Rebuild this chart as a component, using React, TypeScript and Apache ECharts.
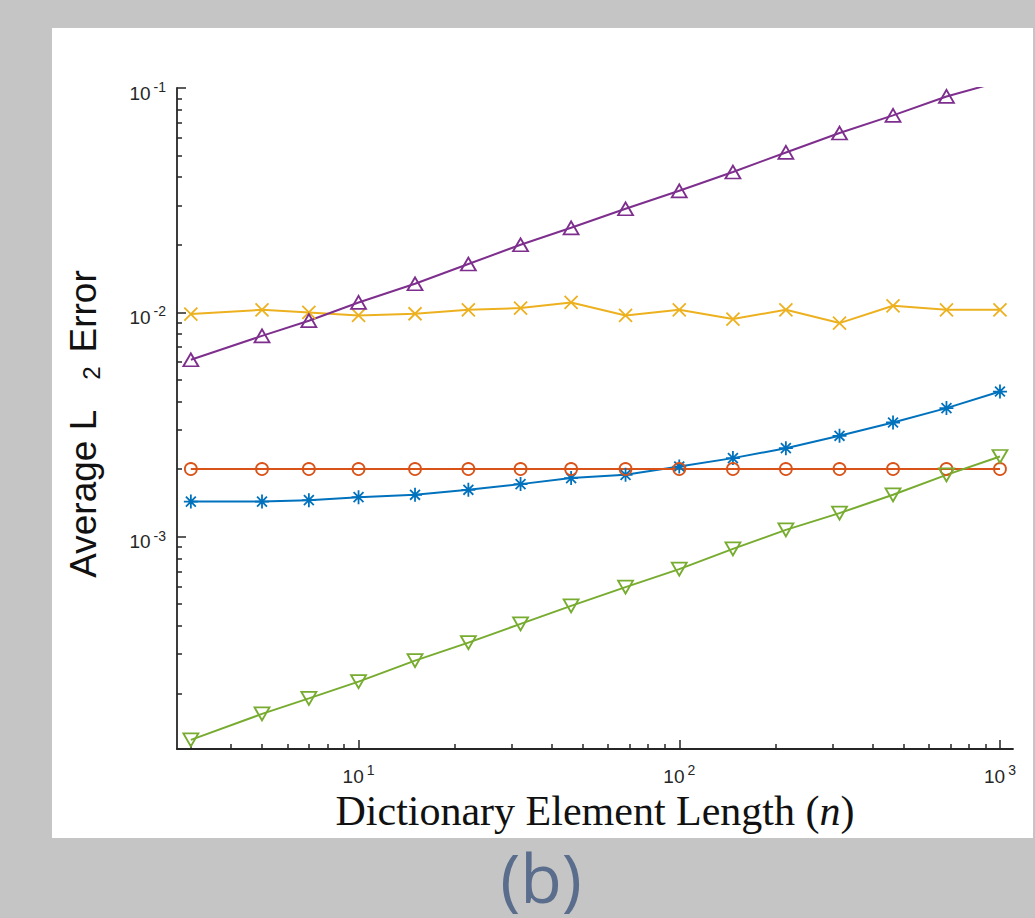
import React, { useEffect, useRef } from "react";
import * as echarts from "echarts";

// Dictionary element length n
const nValues = [3, 5, 7, 10, 15, 22, 32, 46, 68, 100, 147, 215, 316, 464, 681, 1000];

// Average L2 error per method
const blueErr = [1.432e-3, 1.432e-3, 1.453e-3, 1.498e-3, 1.535e-3, 1.616e-3, 1.713e-3, 1.822e-3, 1.884e-3, 2.052e-3, 2.237e-3, 2.478e-3, 2.813e-3, 3.225e-3, 3.738e-3, 4.432e-3];
const orangeErr = [2.0e-3, 2.0e-3, 2.0e-3, 2.0e-3, 2.0e-3, 2.0e-3, 2.0e-3, 2.0e-3, 2.0e-3, 2.0e-3, 2.0e-3, 2.0e-3, 2.0e-3, 2.0e-3, 2.0e-3, 2.0e-3];
const yellowErr = [9.82e-3, 1.026e-2, 9.98e-3, 9.68e-3, 9.85e-3, 1.026e-2, 1.044e-2, 1.106e-2, 9.68e-3, 1.026e-2, 9.33e-3, 1.026e-2, 8.95e-3, 1.069e-2, 1.026e-2, 1.026e-2];
const purpleErr = [6.14e-3, 7.85e-3, 9.17e-3, 1.106e-2, 1.34e-2, 1.641e-2, 2.0e-2, 2.38e-2, 2.894e-2, 3.48e-2, 4.22e-2, 5.16e-2, 6.3e-2, 7.55e-2, 9.17e-2, 1.067e-1];
const greenErr = [1.24e-4, 1.619e-4, 1.898e-4, 2.256e-4, 2.798e-4, 3.366e-4, 4.078e-4, 4.907e-4, 5.947e-4, 7.154e-4, 8.81e-4, 1.071e-3, 1.272e-3, 1.535e-3, 1.884e-3, 2.275e-3];

// Axis ticks
const xMajorTicks = [10, 100, 1000];
const xMinorTicks = [3, 4, 5, 6, 7, 8, 9, 20, 30, 40, 50, 60, 70, 80, 90, 200, 300, 400, 500, 600, 700, 800, 900];
const yMajorTicks = [0.001, 0.01, 0.1];
const yMinorTicks = [
  0.0002, 0.0003, 0.0004, 0.0005, 0.0006, 0.0007, 0.0008, 0.0009,
  0.002, 0.003, 0.004, 0.005, 0.006, 0.007, 0.008, 0.009,
  0.02, 0.03, 0.04, 0.05, 0.06, 0.07, 0.08, 0.09,
];
const xMin = 2.716;
const xMax = 1098;
const yMin = 1.129e-4;
const yMax = 0.1;

const AX = "#262626";
const pair = (ys: number[]) => nValues.map((n, i) => [n, ys[i]]);

const ASTERISK = "path://M0,-10L0,10M-10,0L10,0M-7.07,-7.07L7.07,7.07M-7.07,7.07L7.07,-7.07";
const CROSS = "path://M-5,-5L5,5M-5,5L5,-5";

const powLabel = (v: number) => `{b|10}{s|${Math.round(Math.log10(v))}}`;
const labelRich = {
  b: { fontSize: 19, fontFamily: "Liberation Sans", color: AX, lineHeight: 26 },
  s: { fontSize: 14, fontFamily: "Liberation Sans", color: AX, lineHeight: 12, verticalAlign: "top", padding: [0, 0, 0, 3] },
};

function mkSeries(name: string, ys: number[], color: string, symbol: string, size: any, rotate = 0) {
  return {
    name,
    type: "line",
    data: pair(ys),
    symbol,
    symbolSize: size,
    symbolRotate: rotate,
    showAllSymbol: true,
    clip: true,
    lineStyle: { color, width: 2 },
    itemStyle: { color: "none", borderColor: color, borderWidth: 1.8 },
    emphasis: { disabled: true },
    silent: true,
  };
}

export default function App() {
  const ref = useRef<HTMLDivElement>(null);
  useEffect(() => {
    const chart = echarts.init(ref.current as HTMLDivElement, null, { renderer: "svg" });
    const gridRect = { left: 177, top: 88, width: 836, height: 661, containLabel: false, outerBoundsMode: "none" };
    const option: any = {
      animation: false,
      backgroundColor: "#c4c5c4",
      graphic: [
        { type: "rect", z: -100, shape: { x: 52, y: 28, width: 981, height: 810 }, style: { fill: "#ffffff" } },
        {
          type: "text",
          x: 541,
          y: 876,
          style: { text: "(b)", fontSize: 68, fontFamily: "Open Sans", fill: "#5a6d8c", align: "center", verticalAlign: "middle" },
        },
      ],
      grid: [gridRect, { ...gridRect }],
      xAxis: [
        {
          type: "log",
          gridIndex: 0,
          min: xMin,
          max: xMax,
          logBase: 10,
          splitLine: { show: false },
          axisLine: { show: true, lineStyle: { color: AX, width: 1.8 } },
          axisTick: { show: true, inside: true, length: 9, customValues: xMajorTicks, lineStyle: { color: AX, width: 1.5 } },
          axisLabel: { show: true, customValues: xMajorTicks, formatter: powLabel, rich: labelRich, margin: 14 },
          name: "{a|Dictionary Element Length (}{i|n}{a|)}",
          nameLocation: "middle",
          nameGap: 44,
          nameMoveOverlap: false,
          nameTextStyle: {
            rich: {
              a: { fontSize: 42, fontFamily: "Liberation Serif", color: "#111", lineHeight: 36 },
              i: { fontSize: 42, fontFamily: "Liberation Serif", fontStyle: "italic", color: "#111", lineHeight: 36 },
            },
          },
        },
        {
          type: "log",
          gridIndex: 1,
          min: xMin,
          max: xMax,
          splitLine: { show: false },
          axisLine: { show: false },
          axisTick: { show: true, inside: true, length: 5, customValues: xMinorTicks, lineStyle: { color: AX, width: 1.5 } },
          axisLabel: { show: false },
        },
      ],
      yAxis: [
        {
          type: "log",
          gridIndex: 0,
          min: yMin,
          max: yMax,
          splitLine: { show: false },
          axisLine: { show: true, lineStyle: { color: AX, width: 1.8 } },
          axisTick: { show: true, inside: true, length: 9, customValues: yMajorTicks, lineStyle: { color: AX, width: 1.5 } },
          axisLabel: { show: true, customValues: yMajorTicks, formatter: powLabel, rich: labelRich, margin: 11, padding: [10, 0, 0, 0] },
          name: "{a|Average L}{s|2}{a|Error}",
          nameLocation: "middle",
          nameRotate: 90,
          nameGap: 74,
          nameMoveOverlap: false,
          nameTextStyle: {
            padding: [0, 11, 0, 0],
            rich: {
              a: { fontSize: 37, fontFamily: "Liberation Sans", color: "#111", lineHeight: 40 },
              s: { fontSize: 24, fontFamily: "Liberation Sans", color: "#111", lineHeight: 32, verticalAlign: "bottom", padding: [0, 14, 0, 30] },
            },
          },
        },
        {
          type: "log",
          gridIndex: 1,
          min: yMin,
          max: yMax,
          splitLine: { show: false },
          axisLine: { show: false },
          axisTick: { show: true, inside: true, length: 5, customValues: yMinorTicks, lineStyle: { color: AX, width: 1.5 } },
          axisLabel: { show: false },
        },
      ],
      series: [
        mkSeries("blue", blueErr, "#0072BD", ASTERISK, 14),
        mkSeries("orange", orangeErr, "#D95319", "circle", 12),
        mkSeries("yellow", yellowErr, "#EDB120", CROSS, 13),
        mkSeries("purple", purpleErr, "#7E2F8E", "triangle", [15, 13]),
        mkSeries("green", greenErr, "#77AC30", "triangle", [15, 13], 180),
      ],
    };
    chart.setOption(option);
    return () => chart.dispose();
  }, []);
  return <div ref={ref} style={{ position: "fixed", left: 0, top: 0, width: 1035, height: 918 }} />;
}
